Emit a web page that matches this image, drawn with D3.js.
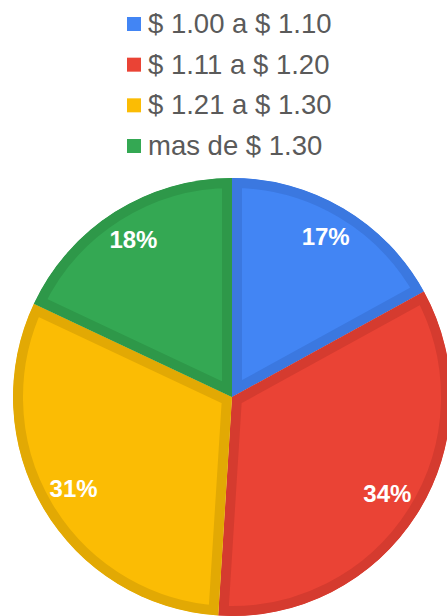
<!DOCTYPE html>
<html>
<head>
<meta charset="utf-8">
<script src="https://cdn.jsdelivr.net/npm/d3@7"></script>
<style>
  html, body { margin: 0; padding: 0; background: #fff; }
  svg { display: block; }
</style>
</head>
<body>
<svg id="chart" width="447" height="616"></svg>
<script>
const categories = ["$ 1.00 a $ 1.10", "$ 1.11 a $ 1.20", "$ 1.21 a $ 1.30", "mas de $ 1.30"];
const values = [17, 34, 31, 18];
const colors = ["#4285f4", "#ea4335", "#fbbc04", "#34a853"];
const borderColors = ["#3b78e0", "#d53b2f", "#e2a904", "#2e9849"];

const W = 447, H = 616;
const cx = 232, cy = 397, R = 219;
const svg = d3.select("#chart");

const data = categories.map((c, i) => ({ name: c, value: values[i], color: colors[i], border: borderColors[i] }));

const pie = d3.pie().sort(null).value(d => d.value).startAngle(0).endAngle(2 * Math.PI);
const arcs = pie(data);
const arc = d3.arc().innerRadius(0).outerRadius(R);
const labelArc = d3.arc().innerRadius(184).outerRadius(184);

const defs = svg.append("defs");
const g = svg.append("g").attr("transform", `translate(${cx},${cy})`);

arcs.forEach((a, i) => {
  defs.append("clipPath").attr("id", "clip" + i)
    .append("path").attr("d", arc(a));
  g.append("path")
    .attr("d", arc(a))
    .attr("fill", a.data.color)
    .attr("stroke", a.data.border)
    .attr("stroke-width", 20)
    .attr("clip-path", `url(#clip${i})`);
});

const total = d3.sum(values);
g.selectAll("text.lbl")
  .data(arcs)
  .join("text")
  .attr("class", "lbl")
  .attr("transform", d => { const c = labelArc.centroid(d); return `translate(${c[0]},${c[1]})`; })
  .attr("text-anchor", "middle")
  .attr("dy", "0.26em")
  .attr("fill", "#ffffff")
  .attr("font-family", "'Liberation Sans', Arial, sans-serif")
  .attr("font-weight", "bold")
  .attr("font-size", 24)
  .text(d => Math.round(d.data.value / total * 100) + "%");

// Legend
const legend = svg.append("g");
const rowY = d3.scalePoint().domain(categories).range([33, 155]);
const items = legend.selectAll("g").data(data).join("g")
  .attr("transform", d => `translate(127,${rowY(d.name)})`);
items.append("rect")
  .attr("x", 0).attr("y", -16).attr("width", 14).attr("height", 14)
  .attr("fill", d => d.color);
items.append("text")
  .attr("x", 21).attr("y", 0)
  .attr("fill", "#5a5a5a")
  .attr("font-family", "'Liberation Sans', Arial, sans-serif")
  .attr("font-size", 27.5)
  .text(d => d.name);
</script>
</body>
</html>
